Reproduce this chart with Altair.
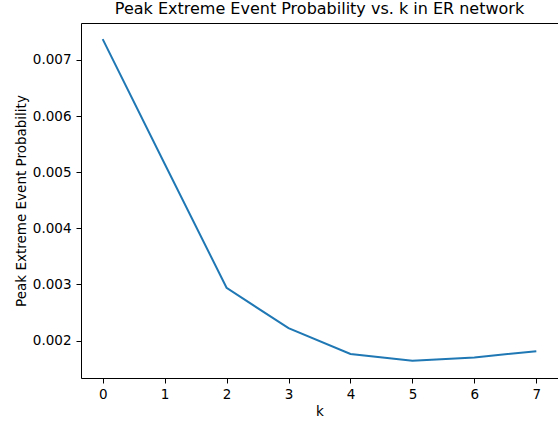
import altair as alt
import pandas as pd

k_values = [0, 1, 2, 3, 4, 5, 6, 7]
peak_prob = [0.00737, 0.00515, 0.00294, 0.00222, 0.00176, 0.00164, 0.00170, 0.00181]
x_ticks = [0, 1, 2, 3, 4, 5, 6, 7]
y_ticks = [0.002, 0.003, 0.004, 0.005, 0.006, 0.007]

df = pd.DataFrame({"k": k_values, "p": peak_prob})

FONT = "DejaVu Sans"
FS = 13.5
x_scale = alt.Scale(domain=[-0.35, 7.35], nice=False, zero=False)
y_scale = alt.Scale(domain=[0.001333, 0.007657], nice=False, zero=False)

main = alt.Chart(df).mark_line(color="#1f77b4", strokeWidth=2).encode(
    x=alt.X("k:Q", scale=x_scale,
            axis=alt.Axis(values=x_ticks, format="d", title="k",
                          grid=False, domainColor="black", tickColor="black",
                          tickSize=5, labelPadding=4, labelFontSize=FS,
                          labelColor="black", labelFont=FONT,
                          titleFont=FONT, titleFontSize=FS, titleFontWeight="normal",
                          titleColor="black", titleY=37, titleBaseline="alphabetic")),
    y=alt.Y("p:Q", scale=y_scale,
            axis=alt.Axis(values=y_ticks, format=".3f", title="Peak Extreme Event Probability",
                          grid=False, domainColor="black", tickColor="black",
                          tickSize=5, labelPadding=5, labelFontSize=FS,
                          labelColor="black", labelFont=FONT,
                          titleFont=FONT, titleFontSize=FS, titleFontWeight="normal",
                          titleColor="black", titleX=-56, titleY=177.5,
                          titleBaseline="alphabetic", titleAlign="center", titleAngle=-90)),
)

frame = alt.Chart(df).mark_line(opacity=0).encode(
    x=alt.X("k:Q", scale=x_scale,
            axis=alt.Axis(orient="top", values=[], labels=False, ticks=False, title=None,
                          grid=False, domainColor="black")),
    y=alt.Y("p:Q", scale=y_scale,
            axis=alt.Axis(orient="right", values=[], labels=False, ticks=False, title=None,
                          grid=False, domainColor="black")),
)

chart = alt.layer(main, frame).resolve_axis(x="independent", y="independent").properties(
    width=477,
    height=355,
    title=alt.TitleParams("Peak Extreme Event Probability vs. k in ER network",
                          font=FONT, fontSize=16, fontWeight="normal", color="black",
                          anchor="middle", offset=6),
    autosize=alt.AutoSizeParams(type="none"),
    padding={"left": 81, "top": 23, "right": 0, "bottom": 43},
).configure_view(
    stroke=None
).configure(background="white")

chart.save("out.html", embed_options={"renderer": "svg", "actions": False})
